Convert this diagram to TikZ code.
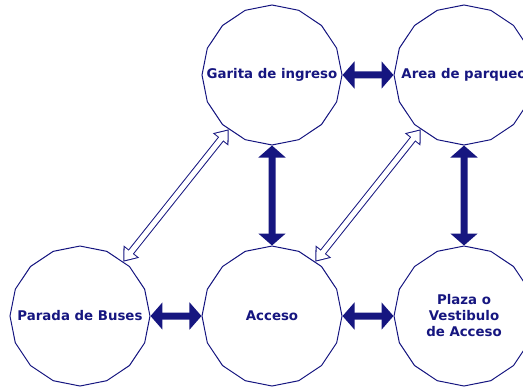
\documentclass[tikz,border=0pt]{standalone}
\usepackage{fontspec}
\usepackage{xcolor}
\usepackage{tikz}
\usetikzlibrary{shapes.geometric, arrows.meta, positioning}
\newfontfamily\labelfont{DejaVu Sans}
\definecolor{diagnavy}{RGB}{22, 22, 128}
% text that does not widen its polygon
\newcommand{\flatlabel}[1]{\makebox[0pt]{#1}}

\begin{document}
\begin{tikzpicture}[
    x=0.75pt, y=-0.75pt,
    node distance=75pt and 38.25pt,
    every node/.style={font=\labelfont\bfseries\fontsize{10}{12}\selectfont, text=diagnavy},
    place/.style={regular polygon, regular polygon sides=16, regular polygon rotate=11.25, draw=diagnavy, line width=0.75pt, minimum size=105pt, inner sep=0pt, align=center},
    fatarrow/.style={draw=diagnavy, line width=5.25pt, {Triangle[length=9pt, width=20pt]}-{Triangle[length=9pt, width=20pt]}},
    hollowarrow/.style={draw=diagnavy, line width=5.25pt, {Triangle[length=9.75pt, width=14.25pt]}-{Triangle[length=9.75pt, width=14.25pt]},
        postaction={draw=white, line width=3.75pt, shorten <=1.3pt, shorten >=1.3pt, {Triangle[length=7.7pt, width=11.3pt]}-{Triangle[length=7.7pt, width=11.3pt]}}}
]
\useasboundingbox (0,0) rectangle (523,388);

% Areas
\node[place] (garita) at (272,75) {\flatlabel{Garita de ingreso}};
\node[place, right=of garita] (area) {\flatlabel{Area de parqueo}};
\node[place, below=of garita] (acceso) {Acceso};
\node[place, left=of acceso] (parada) {\flatlabel{Parada de Buses}};
\node[place, right=of acceso] (plaza) {Plaza o\\Vestibulo\\de Acceso};

% Direct links
\draw[fatarrow] (garita) -- (area);
\draw[fatarrow] (garita) -- (acceso);
\draw[fatarrow] (area) -- (plaza);
\draw[fatarrow] (parada) -- (acceso);
\draw[fatarrow] (acceso) -- (plaza);

% Secondary links
\draw[hollowarrow] (parada) -- (garita);
\draw[hollowarrow] (acceso) -- (area);

\end{tikzpicture}
\end{document}
